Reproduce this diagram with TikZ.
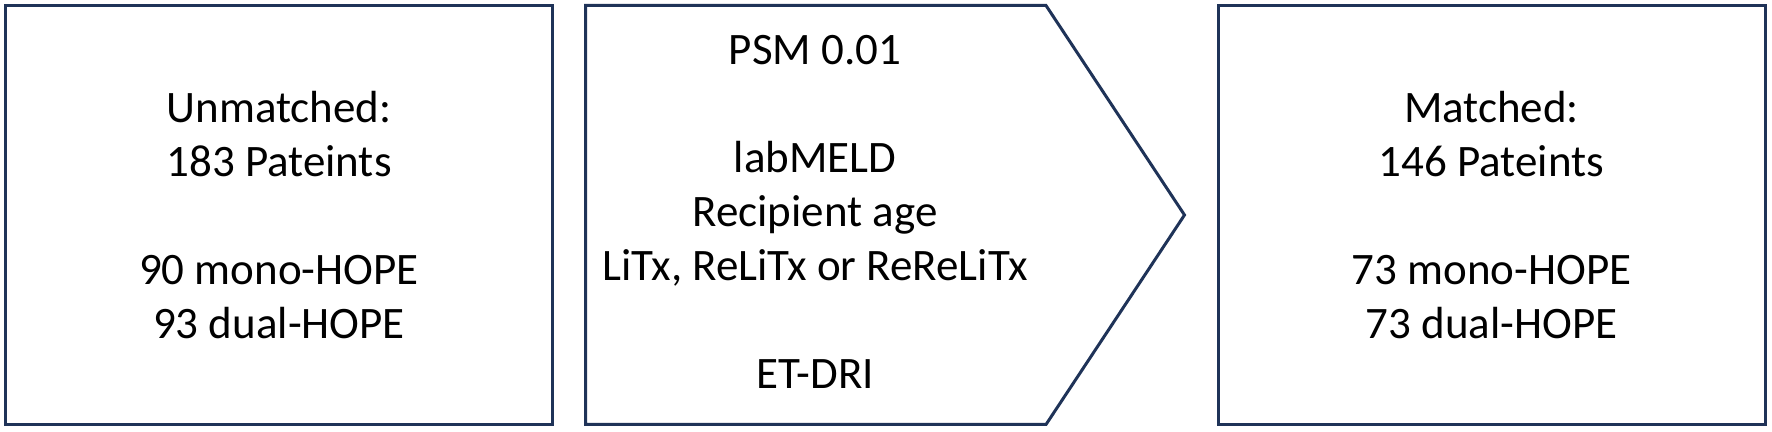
\documentclass[tikz,border=0pt]{standalone}
\usepackage{fontspec}
\setmainfont{Carlito}
\usepackage{tikz}
\usetikzlibrary{positioning}
\definecolor{framenavy}{HTML}{1F3358}

\begin{document}
\begin{tikzpicture}[x=0.5pt, y=-0.5pt,
		every node/.style={font=\fontsize{22.5pt}{27pt}\selectfont, align=center, inner sep=0pt},
		groupbox/.style={draw=framenavy, line width=1.5pt, minimum width=273.5pt, minimum height=209.5pt}]
			\useasboundingbox (0,0) rectangle (1772,432);
			
			\node[groupbox] (unmatched) at (279,215) {Unmatched:\\183 Pateints\\[27pt]90 mono-HOPE\\93 dual-HOPE};
			\node[groupbox] (matched) at (1491.5,215) {Matched:\\146 Pateints\\[27pt]73 mono-HOPE\\73 dual-HOPE};
			
			% matching step
			\draw[framenavy, line width=1.5pt] (585.5,5.5) -- (1046,5.5) -- (1184.5,215) -- (1046,424.5) -- (585.5,424.5) -- cycle;
			\node (psm) at (815,212) {PSM 0.01\\[27pt]labMELD\\Recipient age\\LiTx, ReLiTx or ReReLiTx\\[27pt]ET-DRI};
		\end{tikzpicture}
\end{document}
